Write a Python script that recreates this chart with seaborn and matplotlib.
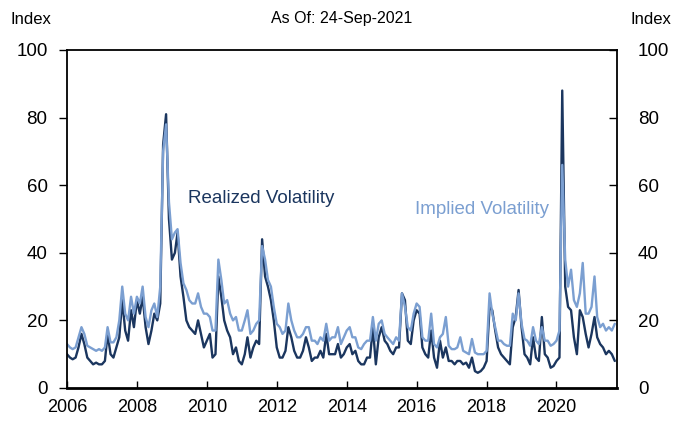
import matplotlib
matplotlib.use("Agg")
import matplotlib.pyplot as plt
import matplotlib.dates as mdates
import pandas as pd
import seaborn as sns

# monthly readings, Jan-2006 .. Sep-2021
START_MONTH = "2006-01-01"
AS_OF = "2021-09-24"

realized_vol = [
    10, 9, 8.5, 9, 12, 16, 13, 9, 8, 7, 7.5, 7,            # 2006
    7, 8, 16, 10, 9, 12, 15, 26, 17, 14, 23, 18,           # 2007
    26, 22, 27, 18, 13, 17, 22, 20, 25, 72, 81, 50,        # 2008
    38, 40, 46, 33, 27, 20, 18, 17, 16, 20, 16, 12,        # 2009
    14, 16, 9, 10, 33, 27, 20, 17, 15, 10, 12, 8,          # 2010
    7, 10, 15, 9, 12, 14, 13, 44, 33, 30, 26, 20,          # 2011
    12, 9, 9, 11, 18, 15, 11, 9, 9, 11, 15, 12,            # 2012
    8, 9, 9, 11, 9, 16, 10, 10, 10, 13, 9, 10,             # 2013
    12, 13, 10, 11, 8, 7, 7, 9, 9, 18, 7, 15,              # 2014
    18, 14, 13, 11, 10, 12, 12, 28, 26, 14, 13, 20,        # 2015
    23, 22, 12, 10, 9, 17, 9, 6, 14, 9, 12, 8,             # 2016
    8, 7, 8, 8, 7, 7.5, 6, 9, 5, 4.5, 5, 6,                # 2017
    8, 24, 23, 17, 12, 10, 9, 8, 7, 18, 21, 29,            # 2018
    18, 10, 9, 7, 15, 9, 8, 21, 10, 9, 6, 6.5,             # 2019
    8, 9, 88, 30, 24, 23, 15, 10, 23, 21, 16, 12,          # 2020
    16, 21, 15, 13, 12, 10, 11, 10, 8,                     # 2021
]

implied_vol = [
    13, 12, 11.5, 12, 15, 18, 16, 12.5, 12, 11.5, 11, 11.5,  # 2006
    11, 12, 18, 13.5, 13.5, 15, 20, 30, 22, 20, 27, 22,      # 2007
    27, 25, 30, 21, 18, 23, 25, 21, 30, 70, 78, 55,          # 2008
    44, 46, 47, 37, 31, 29, 26, 25, 25, 28, 24, 22,          # 2009
    22, 21, 17, 17, 38, 32, 25, 26, 22, 20, 21, 17,          # 2010
    17, 20, 23, 16, 17, 19, 20, 42, 38, 32, 30, 24,          # 2011
    19, 18, 16, 17, 25, 20, 17, 15, 15, 16, 18, 18,          # 2012
    14, 14, 13, 15, 14, 19, 14, 15, 15, 18, 13, 15,          # 2013
    17, 18, 15, 15, 12, 11.5, 13, 14, 14, 21, 14, 19,        # 2014
    20, 16, 15, 14, 13, 15, 14, 28, 24, 18, 17, 22,          # 2015
    25, 24, 15, 14, 14, 22, 13, 12, 15, 16, 21, 12.5,        # 2016
    11.5, 11.5, 12, 15, 11, 10.5, 10, 14.5, 10.5, 10, 10, 10,  # 2017
    11, 28, 22, 18, 14, 14, 13, 12.5, 12.5, 22, 20, 28,      # 2018
    19, 14.5, 14, 12.5, 18, 14, 13, 18, 14, 14, 12.5, 13,    # 2019
    14, 17, 66, 38, 30, 35, 26, 24, 28, 37, 22, 22,          # 2020
    24, 33, 21, 18, 19, 17, 18, 17, 19,                      # 2021
]

y_ticks = [0, 20, 40, 60, 80, 100]

DARK = "#1b365f"
LIGHT = "#7b9fd1"

if __name__ == "__main__":
    dates = pd.date_range(START_MONTH, periods=len(realized_vol), freq="MS")
    df = pd.DataFrame({"date": dates, "realized": realized_vol, "implied": implied_vol})

    sns.set_style("white")
    plt.rcParams["font.family"] = ["Liberation Sans", "DejaVu Sans"]
    plt.rcParams["text.color"] = "black"
    plt.rcParams["xtick.color"] = "black"
    plt.rcParams["ytick.color"] = "black"
    plt.rcParams["axes.labelcolor"] = "black"

    fig = plt.figure(figsize=(6.73, 4.22), dpi=100)
    ax = fig.add_axes([67 / 673, 1 - 388 / 422, 550 / 673, 338 / 422])

    sns.lineplot(data=df, x="date", y="realized", color=DARK, linewidth=1.7, ax=ax)
    sns.lineplot(data=df, x="date", y="implied", color=LIGHT, linewidth=1.7, ax=ax)

    ax.set_xlim(pd.Timestamp(START_MONTH), pd.Timestamp(AS_OF))
    ax.set_ylim(0, 100)
    ax.set_yticks(y_ticks)
    ax.set_xlabel("")
    ax.set_ylabel("")
    ax.xaxis.set_major_locator(mdates.YearLocator(2))
    ax.xaxis.set_major_formatter(mdates.DateFormatter("%Y"))

    for side in ["left", "right", "top", "bottom"]:
        ax.spines[side].set_visible(True)
        ax.spines[side].set_color("black")
        ax.spines[side].set_linewidth(1.3)
    ax.spines["bottom"].set_linewidth(2)

    ax.tick_params(axis="x", direction="in", length=5, width=1, labelsize=13, pad=8,
                   bottom=True, colors="black")
    ax.tick_params(axis="y", direction="out", length=6, width=1, labelsize=13.5, pad=8,
                   left=True, colors="black")

    ax2 = ax.twinx()
    ax2.set_ylim(0, 100)
    ax2.set_yticks(y_ticks)
    ax2.tick_params(axis="y", direction="in", length=6, width=1, labelsize=13.5, pad=15,
                    right=True, colors="black")
    for side in ["left", "right", "top", "bottom"]:
        ax2.spines[side].set_visible(False)

    ax.text(0.22, 0.562, "Realized Volatility", color=DARK, fontsize=13.5,
            transform=ax.transAxes, va="center", ha="left")
    ax.text(0.633, 0.527, "Implied Volatility", color=LIGHT, fontsize=13.5,
            transform=ax.transAxes, va="center", ha="left")

    fig.text(10 / 673, 1 - 19 / 422, "Index", fontsize=12, va="center", ha="left")
    fig.text(671 / 673, 1 - 19 / 422, "Index", fontsize=12, va="center", ha="right")
    fig.text(342 / 673, 1 - 19 / 422, "As Of: 24-Sep-2021", fontsize=11.5, va="center", ha="center")

    fig.savefig("out.png", dpi=100)
